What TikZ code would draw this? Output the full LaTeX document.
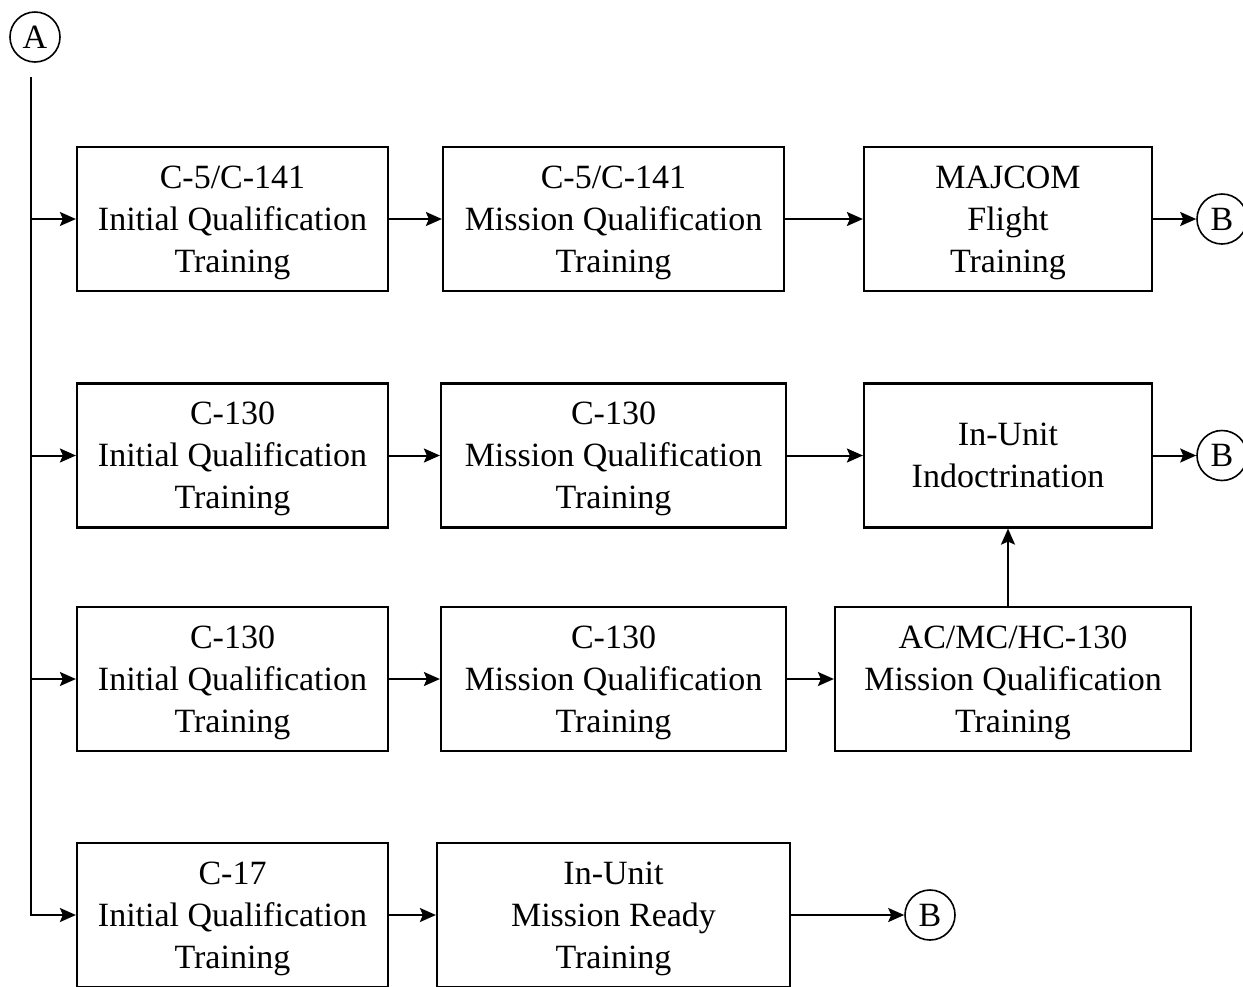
\documentclass[tikz,border=0pt]{standalone}
\usepackage{fontspec}
\setmainfont{Liberation Serif}
\usetikzlibrary{arrows.meta,positioning,calc}

\begin{document}
\begin{tikzpicture}[x=0.5pt, y=-0.5pt,
    box/.style={draw, line width=1.1pt, inner sep=0pt, align=center, text depth=0pt,
        minimum height=72pt, font=\fontsize{17}{21}\selectfont},
    conn/.style={circle, draw, line width=0.8pt, inner sep=0pt,
        minimum size=25pt, font=\fontsize{17}{21}\selectfont},
    arr/.style={-{Stealth[length=8pt,width=7pt,inset=1.5pt]}, line width=1pt}]
    \useasboundingbox (0,0) rectangle (1243,986);

    % Connecteur d'entrée et tronc vertical
    \node[conn] (A) at (35,37) {A};
    \coordinate (top) at (31,77);

    % Ligne 1 : C-5/C-141
    \node[box, minimum width=155.5pt] (b11) at (232.5,219) {C-5/C-141\\Initial Qualification\\Training};
    \node[box, minimum width=170.5pt] (b12) at (613.5,219) {C-5/C-141\\Mission Qualification\\Training};
    \node[box, minimum width=144pt] (b13) at (1008,219) {MAJCOM\\Flight\\Training};
    \node[conn] (B1) at (1222,219) {B};

    % Ligne 2 : C-130
    \node[box, minimum width=155.5pt] (b21) at (232.5,455.5) {C-130\\Initial Qualification\\Training};
    \node[box, minimum width=172.5pt] (b22) at (613.5,455.5) {C-130\\Mission Qualification\\Training};
    \node[box, minimum width=144pt] (b23) at (1008,455.5) {In-Unit\\Indoctrination};
    \node[conn] (B2) at (1222,455.5) {B};

    % Ligne 3 : AC/MC/HC-130
    \node[box, minimum width=155.5pt] (b31) at (232.5,679) {C-130\\Initial Qualification\\Training};
    \node[box, minimum width=172.5pt] (b32) at (613.5,679) {C-130\\Mission Qualification\\Training};
    \node[box, minimum width=178pt] (b33) at (1013,679) {AC/MC/HC-130\\Mission Qualification\\Training};

    % Ligne 4 : C-17
    \node[box, minimum width=155.5pt] (b41) at (232.5,915) {C-17\\Initial Qualification\\Training};
    \node[box, minimum width=176.5pt] (b42) at (613.5,915) {In-Unit\\Mission Ready\\Training};
    \node[conn] (B3) at (930,915) {B};

    % Tronc et flèches d'entrée
    \draw[arr] (top) -- (top |- b41.west) -- (b41.west);
    \foreach \n in {b11, b21, b31} {
        \draw[arr] (top |- \n.west) -- (\n.west);
    }

    % Flèches entre les blocs
    \foreach \a/\b in {b11/b12, b12/b13, b13/B1, b21/b22, b22/b23, b23/B2,
                       b31/b32, b32/b33, b41/b42, b42/B3} {
        \draw[arr] (\a) -- (\b);
    }
    \draw[arr] (b33.north -| b23.south) -- (b23.south);
\end{tikzpicture}
\end{document}
